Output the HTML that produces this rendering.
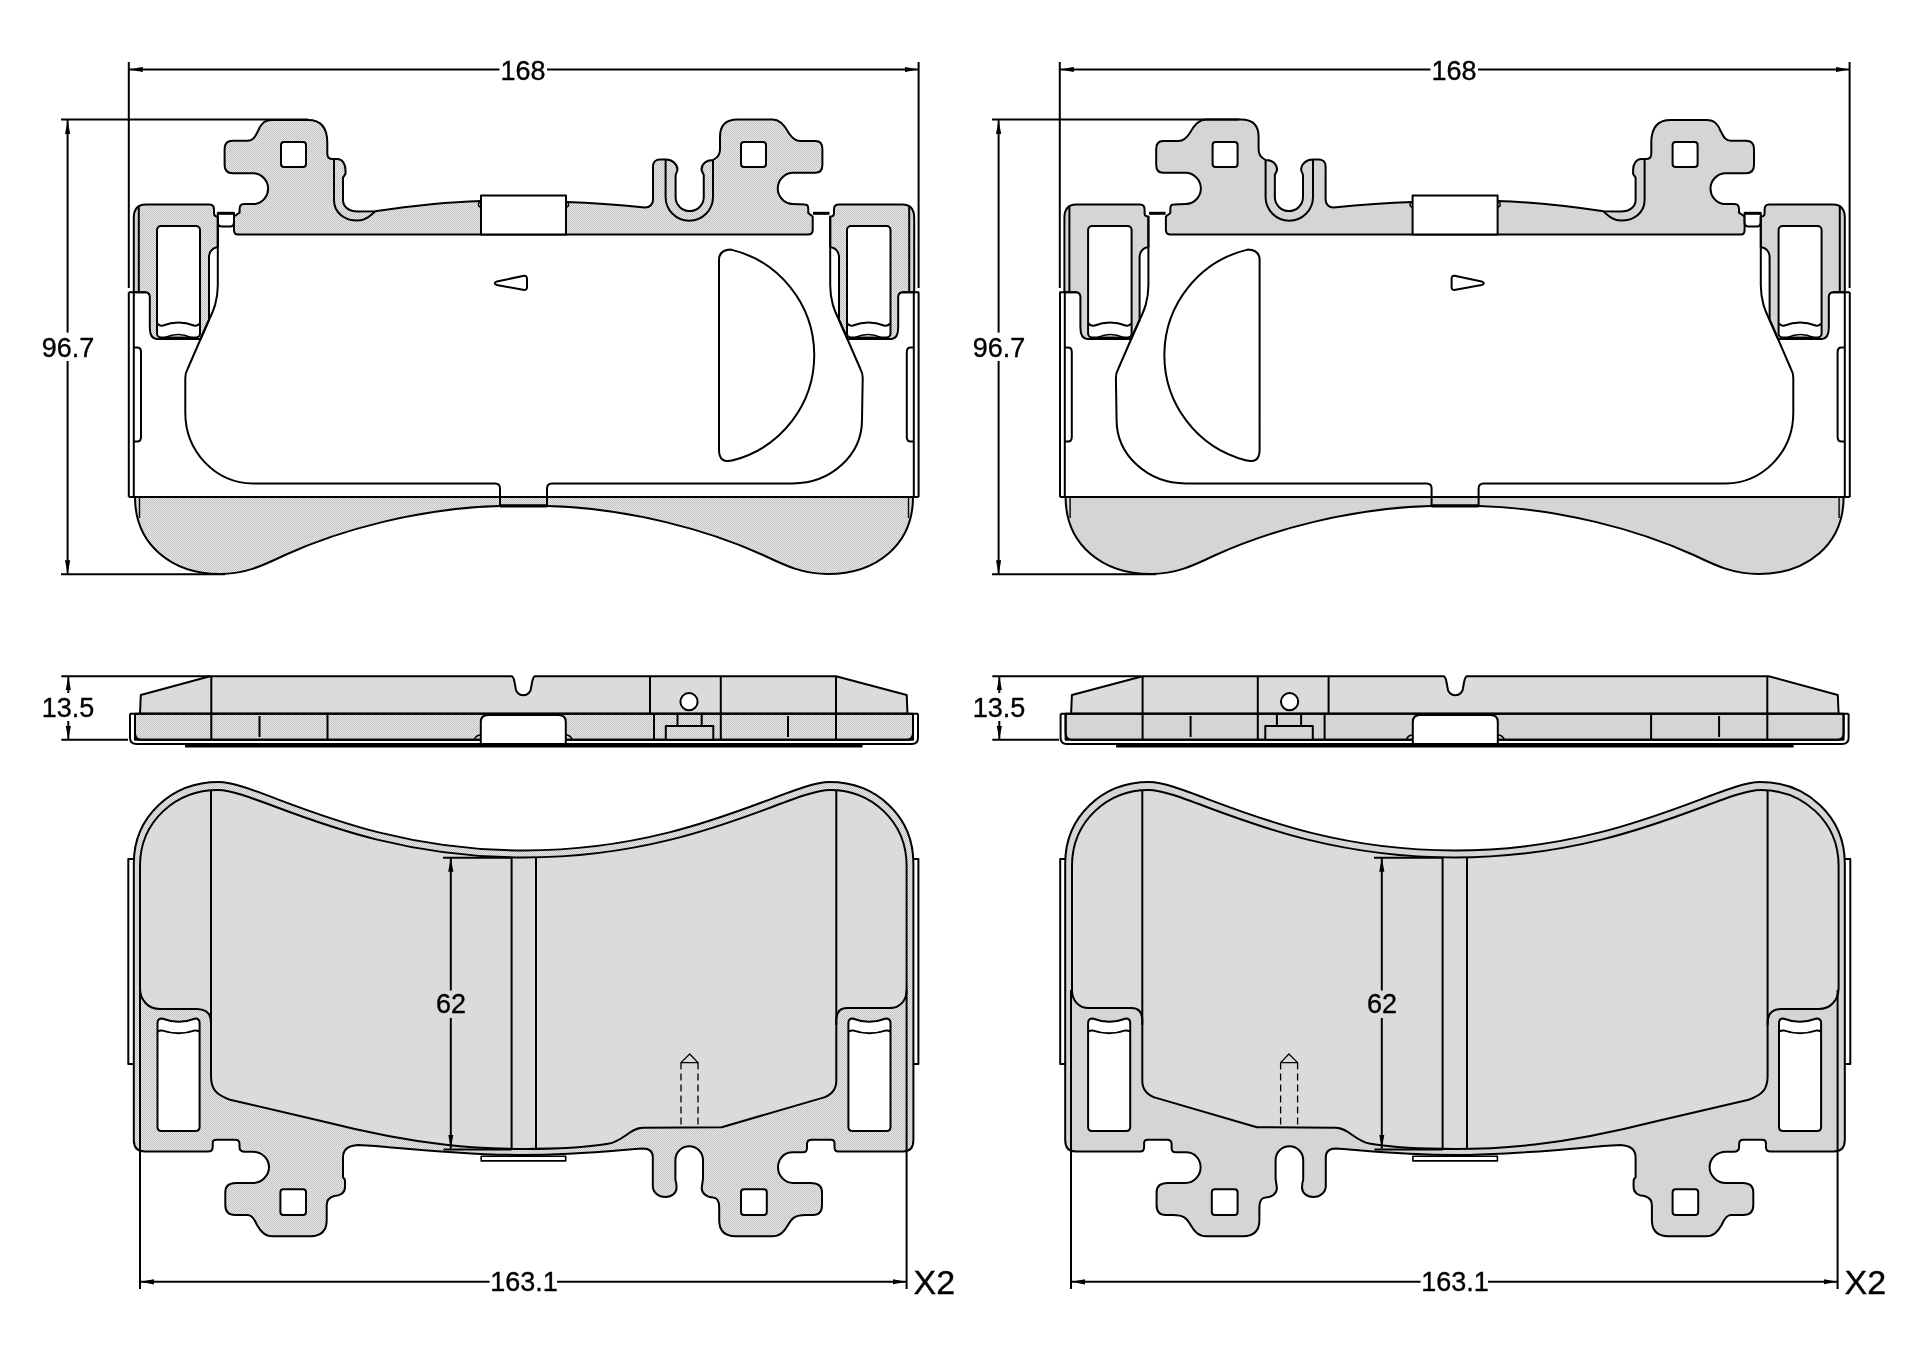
<!DOCTYPE html>
<html><head><meta charset="utf-8">
<style>
html,body{margin:0;padding:0;background:#fff;width:1920px;height:1357px;overflow:hidden}
svg{display:block;will-change:transform}
text{font-family:"Liberation Sans",sans-serif;fill:#000;stroke:#000;stroke-width:0.35px}
</style></head><body>
<svg width="1920" height="1357" viewBox="0 0 1920 1357">
<defs>
<pattern id="st" width="2" height="2" patternUnits="userSpaceOnUse">
<rect width="2" height="2" fill="#e8e8e8"/><rect width="1" height="1" fill="#c2c2c2"/><rect x="1" y="1" width="1" height="1" fill="#c2c2c2"/>
</pattern>
<marker id="ah" viewBox="0 0 14 6" refX="14" refY="3" markerWidth="14" markerHeight="6" markerUnits="userSpaceOnUse" orient="auto-start-reverse">
<path d="M0,0.4 L14,3 L0,5.6 Z" fill="#000"/>
</marker>

<g id="padTop" fill="none" stroke="#000" stroke-width="2" stroke-linejoin="round">
<!-- top strip + tabs -->
<path fill="url(#st)" d="M237.8,234.6 Q234,234.6 234,230 L234,216.5 L239.6,212.7 L239.6,209 Q239.6,204 244,204 L255.3,204 A15.5,15.5 0 0 0 254,173.3 L232.7,173.3 Q224.6,173.3 224.6,165 L224.6,149 Q224.6,140.7 232.7,140.7 L247.8,140.7 C253,140.7 255,137 258,131 C261,124 264,120 272,120 L308,120 Q327.3,120 327.3,142.6 L327.3,153.8 Q327.3,158.9 331.7,158.9 L337,159 C343,159 345.5,165 345.5,170 L345.5,173.9 L343,177.6 L343,200 C343,207 349,211.5 358,211.5 L375,211.3 C410,206 445,202 481,201 L566,202 C595,203 620,205 645,207.5 C650,207.5 653,204 653,200 L653,166 C653,162 656,159.4 660,159.4 L666,159.4 C672,159.4 677.5,164 677.5,170 L675.6,175 L675.6,197 A14,14 0 0 0 703.75,197 L703.75,175 L701.5,170 C701.5,164 706,160 713,160 L716,158 Q720,155 720,149 L720,137 Q720,119.6 737.5,119.6 L772.5,119.6 C780,119.6 785,126 788.75,133 C792,138 795,141 800,141 L815.4,141 Q822.4,141 822.4,149 L822.4,164.8 Q822.4,172.8 815.4,172.8 L794,172.8 A15.5,15.5 0 0 0 792.7,204 L804.8,204.6 Q808.3,204.6 808.3,209 L808.3,213 L812.7,216.5 L812.7,230 Q812.7,234.6 808,234.6 Z"/>
<!-- channel outer line -->
<path d="M334,159 L334,200 C334,213 345,220.6 357.5,220.6 C365,220.6 370,216 375,211.5"/>
<!-- U clip outer line -->
<path d="M665.6,160 L665.6,197 A23.6,23.6 0 0 0 713,197 L713,160"/>
<!-- white center rect -->
<rect x="481" y="195.6" width="85" height="39" fill="#fff"/>
<path d="M481,202 A2.6,2.6 0 0 0 481,207.2 M566,202 A2.6,2.6 0 0 1 566,207.2" stroke-width="1.4"/>
<!-- square holes -->
<rect x="281" y="142" width="25" height="25" rx="3" fill="#fff"/>
<rect x="741" y="142" width="25" height="25" rx="3" fill="#fff"/>
<!-- key blocks -->
<path d="M217.8,213 L234,213 L234,222 Q234,226.5 230,226.5 L222,226.5 Q217.8,226.5 217.8,222 Z" fill="#fff"/>
<path d="M218,213.3 L234,213.3" stroke-width="3"/>
<path d="M813,213.3 L829.5,213.3" stroke-width="3"/>

<!-- left ear -->
<path fill="url(#st)" d="M145.5,204.4 L209.5,204.4 Q214,204.4 214,209.4 L214,213.2 Q214,216.5 217.8,216.5 L217.8,247 C213,248 209,251 209,257 L209,320 L200.5,339 L156.5,339 Q149.8,338.6 149.8,327.6 L149.8,297 Q149.8,292.2 145,292.2 L133.8,292.2 L133.8,218 Q133.8,204.4 145.5,204.4 Z"/>
<path d="M138.8,207 L138.8,292.2 M128.8,292.2 L146,292.2 M128.8,292.2 L128.8,497 M133.8,292.2 L133.8,497"/>
<rect x="157" y="226" width="43" height="111.5" rx="4" fill="#fff"/>
<path d="M157.5,323.5 Q159.5,326.5 163,325.5 Q178.5,319.5 194,325.5 Q197.5,326.5 199.5,323.5"/>
<path d="M165,337.5 Q178.5,331.5 191,337.5" stroke-width="1.4"/>
<!-- right ear -->
<path fill="url(#st)" d="M902.5,204.4 L838.5,204.4 Q834,204.4 834,209.4 L834,213.2 Q834,216.5 830.2,216.5 L830.2,247 C835,248 839,251 839,257 L839,320 L847.5,339 L891.5,339 Q898.2,338.6 898.2,327.6 L898.2,297 Q898.2,292.2 903,292.2 L914.2,292.2 L914.2,218 Q914.2,204.4 902.5,204.4 Z"/>
<path d="M909.2,207 L909.2,292.2 M919.2,292.2 L902,292.2 M918.6,292.2 L918.6,497 M913.8,292.2 L913.8,497"/>
<rect x="847" y="226" width="43.5" height="111.5" rx="4" fill="#fff"/>
<path d="M847.5,323.5 Q849.5,326.5 853,325.5 Q868.5,319.5 884,325.5 Q887.5,326.5 890,323.5"/>
<path d="M855,337.5 Q868.5,331.5 881,337.5" stroke-width="1.4"/>

<!-- inner contour -->
<path d="M217.8,216.5 L217.8,285 C217.8,300 214,310 208,322 L187.6,369 Q185.3,373 185.3,378 L185.3,412.7 A68,70.7 0 0 0 253,483.4 L495,483.4 Q500,483.4 500,488.4 L500,506 M547,506 L547,488.4 Q547,483.4 552,483.4 L793,483.4 A69,63.4 0 0 0 862,420 L862.7,378 Q862.7,373 860.4,369 L840,322 C834,310 830.2,300 830.2,285 L830.2,216.5"/>
<!-- plate bottom line -->
<path d="M128.8,497 L918.6,497"/>
<!-- small side rects -->
<path d="M134,347.6 L137,347.6 Q141,347.6 141,352 L141,437 Q141,441.5 137,441.5 L134,441.5"/>
<path d="M913.8,347.6 L910.8,347.6 Q906.8,347.6 906.8,352 L906.8,437 Q906.8,441.5 910.8,441.5 L913.8,441.5"/>
<!-- friction bottom -->
<path fill="url(#st)" d="M135,497 C135,545 172,574 220,574 C245,574 262,566 285,555 C340,530 420,508 500,506 L547,506 C628,508 708,530 763,555 C786,566 803,574 828,574 C876,574 913,545 913,497 Z"/>
<path d="M139.5,497 L139.5,518 M908.5,497 L908.5,518" stroke-width="1.4"/>
<path d="M500,497 L500,506 M547,497 L547,506"/>
<path d="M500,505.8 L547,505.8" stroke-width="3.2"/>
<!-- semicircle -->
<path d="M731,249.6 A108.6,108.6 0 0 1 733,460.3 Q719,464 719,450 L719,260 Q719,250 731,249.6 Z"/>
<!-- triangle -->
<path d="M524,275.8 Q527,275.4 527,279 L527,287 Q527,290.5 523,289.8 L497,285 Q492.5,283.3 497,281.4 Z"/>
</g>

<g id="padSide" fill="none" stroke="#000" stroke-width="2" stroke-linejoin="round">
<path fill="#dbdbdb" d="M140,713.7 L140.8,695 L210,676.2 L511.7,676.2 Q513.5,677 514.5,682 L515.5,687.5 A7.8,7.8 0 0 0 531.1,687.5 L532.1,682 Q533.1,677 535,676.2 L836,676.2 L906.7,695 L907.5,713.7 Z"/>
<path d="M211.3,676.2 L211.3,739.7 M650,676.2 L650,713.7 M720.8,676.2 L720.8,739.7 M836,676.2 L836,739.7"/>
<circle cx="689" cy="701.7" r="8.6" fill="#fff"/>
<path fill="url(#st)" d="M135,713.7 L913,713.7 L913,739.7 L135,739.7 Z"/>
<path d="M130,713.7 L918,713.7 M130,713.7 L130,738 Q130,744 136.7,744 L911.7,744 Q918,744 918,738 L918,713.7 M135,713.7 L135,733 Q135,739.7 141,739.7 L907,739.7 Q913,739.7 913,733 L913,713.7"/>
<path d="M185,746 L862.5,746" stroke-width="3"/>
<path fill="#fff" d="M480.8,744 L480.8,722 Q480.8,715 488,715 L558.6,715 Q565.8,715 565.8,722 L565.8,744 Z"/>
<path d="M474,740 Q476,735 480.8,735 M572.6,740 Q570.6,735 565.8,735" stroke-width="1.4"/>
<path d="M211.3,713.7 L211.3,739.7 M259.5,716 L259.5,737 M327.5,713.7 L327.5,739.7 M654,713.7 L654,739.7 M677.5,713.7 L677.5,726 M701.7,713.7 L701.7,726 M720.8,713.7 L720.8,739.7 M788,716 L788,737 M836,713.7 L836,739.7"/>
<rect x="665.8" y="726" width="47.5" height="13.7" fill="url(#st)"/>
</g>

<g id="padBot" fill="none" stroke="#000" stroke-width="2" stroke-linejoin="round">
<!-- plate outer -->
<path fill="url(#st)" d="M133.8,1140 L133.8,863.6 C133.8,815.9 172.2,782 218.5,782 C259.2,782 358.2,850.5 524,850.5 C689.8,850.5 788.8,782 829.5,782 C875.8,782 913.4,815.9 913.4,863.6 L913.4,1140 Q913.4,1151.5 903,1151.5 L838.2,1151.5 Q834.5,1151.5 834.5,1147 L834.5,1143 Q834.5,1139.7 830.7,1139.7 L812,1139.7 Q807,1139.7 807,1144 L807,1148 Q807,1152.3 803,1152.3 L793,1152.3 C783,1152.3 778,1160 778,1167.3 C778,1176 785,1183 793,1183 L810.6,1183 Q822,1183 822,1192.4 L822,1205 Q822,1215 813,1215 L805.6,1215 C795,1215 792,1218 788,1225 C784,1232 780,1236.2 772,1236.2 L735.5,1236.2 Q719.2,1236.2 719.2,1220 L719.2,1207.4 C719.2,1200 716,1197.4 713,1197.4 C706,1197.4 701.7,1193 701.7,1188 L703,1178.6 L703,1160 A13.8,13.8 0 0 0 675.4,1160 L675.4,1180 Q676.6,1183 676.6,1187.3 C676.6,1193 672,1197 665.4,1197 C658,1197 652.8,1192 652.8,1186 L652.8,1157.3 Q652.8,1148.5 642.8,1148.5 C615,1150.5 575,1155 524,1155 C470,1155 410,1149 375.6,1146 L358,1145 Q343,1146 343,1157.3 L343,1177.3 Q345,1179 345,1181 L345,1187.3 C345,1193 340,1196 334.2,1196 Q326.7,1198 326.7,1205 L326.7,1220 Q326.7,1236.2 310.4,1236.2 L272.8,1236.2 C265,1236.2 261,1232 257,1225 C254,1218 251,1215 247.8,1215 L235.3,1215 Q225.3,1215 225.3,1205 L225.3,1192.4 Q225.3,1183 236,1183 L252.8,1183 C261,1183 269,1176 269,1167.3 C269,1158 261,1151.8 252.8,1151.8 L245,1151.8 Q239.5,1151.8 239.5,1147 L239.5,1144 Q239.5,1139.7 235,1139.7 L216.5,1139.7 Q212.7,1139.7 212.7,1143 L212.7,1147 Q212.7,1151.5 208,1151.5 L145,1151.5 Q133.8,1151.5 133.8,1140 Z"/>
<!-- friction -->
<path fill="#dbdbdb" d="M140,988 L140,866 C140,821 176,790 218,790 C257,790 356,857.5 524,857.5 C692,857.5 791,790 830,790 C871,790 906.6,821 906.6,866 L906.6,990.5 C906.6,1000 900,1008 890,1008 L847,1008 Q836.3,1008 836.3,1020.5 L836.3,1080.7 C836.3,1090 830,1096 820.7,1098.4 L721.7,1127.2 L643,1127.8 C630,1127.8 624,1141 608,1143.8 C585,1147.5 550,1149 524,1149 C480,1149 420,1146 325.5,1122 L230,1099.7 C216,1095 211,1089 211,1076 L211,1023 Q211,1009 197,1009 L160,1009 C148,1009 140,1000 140,988 Z"/>
<path d="M211,790 L211,1025 M836.3,790 L836.3,1025"/>
<!-- ear holes -->
<path fill="#fff" d="M157.5,1027 L157.5,1023 Q157.5,1018.5 162,1018.5 Q178.75,1024.9 195.5,1018.5 Q199.6,1018.5 199.6,1023 L199.6,1127 Q199.6,1131 195.5,1131 L161.5,1131 Q157.5,1131 157.5,1127 Z"/>
<path d="M157.5,1031.7 Q159.5,1030.3 161.7,1030.4 Q178.75,1036.2 195,1030.4 Q197.5,1030.3 199.6,1031.7"/>
<path fill="#fff" d="M890.5,1027 L890.5,1023 Q890.5,1018.5 886,1018.5 Q869.25,1024.9 852.5,1018.5 Q848.4,1018.5 848.4,1023 L848.4,1127 Q848.4,1131 852.5,1131 L886.5,1131 Q890.5,1131 890.5,1127 Z"/>
<path d="M890.5,1031.7 Q888.5,1030.3 886.3,1030.4 Q869.25,1036.2 853,1030.4 Q850.5,1030.3 848.4,1031.7"/>
<!-- square holes -->
<rect x="280.4" y="1189.3" width="25.6" height="25.7" rx="3" fill="#fff"/>
<rect x="741" y="1189.3" width="25.8" height="25.7" rx="3" fill="#fff"/>
<!-- side rects -->
<path d="M133.8,859 L128.3,859 L128.3,1064 L133.8,1064 M913.4,859 L918.4,859 L918.4,1064 L913.4,1064"/>
<!-- band -->
<path d="M511.6,857.7 L511.6,1148.5 M536,857.7 L536,1148.5"/>
<!-- small rect under -->
<rect x="481.2" y="1156.3" width="84.5" height="4.6" fill="#fff" stroke-width="1.6"/>
<!-- dashed arrow -->
<path d="M681,1062.6 L689.7,1054 L698,1062.6 Z" stroke-width="1.3"/>
<path d="M681,1062.6 L681,1127 M698,1062.6 L698,1127" stroke-width="1.3" stroke-dasharray="7,4"/>
</g>
</defs>

<!-- Left top pad -->
<use href="#padTop"/>
<use href="#padTop" transform="matrix(-1 0 0 1 1978.6 0)"/>

<!-- dimensions top (left) -->
<g id="dimTop" stroke="#000" stroke-width="2" fill="none">
<path d="M128.8,62 L128.8,288 M918.6,62 L918.6,288"/>
<path d="M128.8,69.5 L499.5,69.5" marker-start="url(#ah)"/>
<path d="M547,69.5 L918.6,69.5" marker-end="url(#ah)"/>
<path d="M61,119.5 L308,119.5 M61,574.3 L225,574.3"/>
<path d="M67.6,332.6 L67.6,120" marker-end="url(#ah)"/>
<path d="M67.6,361 L67.6,574.3" marker-end="url(#ah)"/>
<text x="523" y="80" font-size="27" text-anchor="middle" stroke="none">168</text>
<text x="68" y="357" font-size="27" text-anchor="middle" stroke="none">96.7</text>
</g>
<use href="#dimTop" transform="translate(931,0)"/>

<use href="#padSide"/>
<use href="#padSide" transform="matrix(-1 0 0 1 1978.6 0)"/>
<use href="#padBot"/>
<use href="#padBot" transform="matrix(-1 0 0 1 1978.6 0)"/>

<g id="dimBot" stroke="#000" stroke-width="2" fill="none">
<path d="M61.3,676.2 L210,676.2 M61.3,739.7 L128,739.7"/>
<path d="M68.3,693 L68.3,676.2" marker-end="url(#ah)"/>
<path d="M68.3,721 L68.3,739.7" marker-end="url(#ah)"/>
<text x="68" y="716.7" font-size="27" text-anchor="middle" stroke="none">13.5</text>
<path d="M443,857.7 L511.6,857.7 M443.5,1149.4 L511.6,1149.4"/>
<path d="M450.8,990.5 L450.8,857.7" marker-end="url(#ah)"/>
<path d="M450.8,1018 L450.8,1148.5" marker-end="url(#ah)"/>
<text x="451" y="1012.6" font-size="27" text-anchor="middle" stroke="none">62</text>
<path d="M140,990 L140,1289 M906.6,990 L906.6,1289"/>
<path d="M489.6,1281.8 L140,1281.8" marker-end="url(#ah)"/>
<path d="M557,1281.8 L906.6,1281.8" marker-end="url(#ah)"/>
<text x="524" y="1291.3" font-size="27" text-anchor="middle" stroke="none">163.1</text>
<text x="913.5" y="1294.4" font-size="34" stroke="none">X2</text>
</g>
<use href="#dimBot" transform="translate(931,0)"/>


</svg>
</body></html>
